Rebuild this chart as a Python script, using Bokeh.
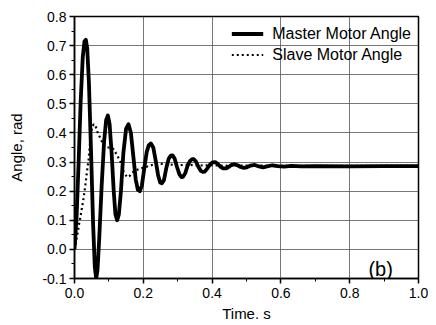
from bokeh.plotting import figure
from bokeh.models import Range1d, FixedTicker, Legend, LegendItem, Label, PrintfTickFormatter
from bokeh.embed import file_html
from bokeh.resources import INLINE

# Master motor angle (time s, angle rad)
master_t = [0.000, 0.006, 0.012, 0.018, 0.024, 0.029, 0.033, 0.037, 0.042, 0.048, 0.054, 0.059,
            0.063, 0.067, 0.072, 0.079, 0.086, 0.092, 0.097, 0.102, 0.108, 0.114, 0.119, 0.124,
            0.129, 0.135, 0.142, 0.150, 0.157, 0.164, 0.171, 0.178, 0.184, 0.190, 0.196, 0.203,
            0.210, 0.216, 0.222, 0.229, 0.236, 0.243, 0.249, 0.254, 0.260, 0.267, 0.274, 0.280,
            0.285, 0.291, 0.298, 0.305, 0.311, 0.316, 0.322, 0.329, 0.336, 0.342, 0.347, 0.353,
            0.360, 0.367, 0.373, 0.378, 0.385, 0.393, 0.401, 0.409, 0.416, 0.424, 0.432, 0.440,
            0.448, 0.456, 0.465, 0.474, 0.483, 0.492, 0.501, 0.512, 0.524, 0.536, 0.548, 0.560,
            0.575, 0.590, 0.610, 0.630, 0.660, 0.700, 0.800, 0.900, 1.000]
master_v = [0.000, 0.110, 0.300, 0.510, 0.660, 0.715, 0.720, 0.690, 0.570, 0.340, 0.090, -0.060,
            -0.100, -0.070, 0.040, 0.220, 0.370, 0.445, 0.460, 0.430, 0.330, 0.200, 0.120, 0.100,
            0.120, 0.200, 0.330, 0.415, 0.430, 0.400, 0.320, 0.240, 0.205, 0.200, 0.220, 0.280,
            0.335, 0.358, 0.364, 0.350, 0.305, 0.255, 0.230, 0.227, 0.238, 0.280, 0.312, 0.322,
            0.323, 0.312, 0.283, 0.258, 0.248, 0.250, 0.262, 0.288, 0.304, 0.310, 0.310, 0.302,
            0.284, 0.270, 0.266, 0.267, 0.276, 0.290, 0.299, 0.300, 0.294, 0.284, 0.278, 0.278,
            0.283, 0.290, 0.292, 0.289, 0.283, 0.280, 0.282, 0.288, 0.290, 0.285, 0.282, 0.285,
            0.289, 0.286, 0.284, 0.287, 0.285, 0.286, 0.285, 0.286, 0.286]

# Slave motor angle
slave_t = [0.000, 0.004, 0.009, 0.013, 0.017, 0.022, 0.027, 0.032, 0.036, 0.041, 0.046, 0.051,
           0.056, 0.061, 0.066, 0.076, 0.085, 0.095, 0.105, 0.113, 0.124, 0.134, 0.143, 0.153,
           0.160, 0.168, 0.180, 0.192, 0.210, 0.226, 0.250, 0.275, 0.300, 0.330, 0.360, 0.400,
           0.450, 0.500, 0.600, 0.700, 0.800, 0.900, 1.000]
slave_v = [0.000, 0.025, 0.055, 0.085, 0.110, 0.145, 0.180, 0.225, 0.265, 0.310, 0.375, 0.420,
           0.430, 0.425, 0.405, 0.380, 0.357, 0.350, 0.350, 0.345, 0.323, 0.300, 0.266, 0.248,
           0.252, 0.264, 0.272, 0.278, 0.284, 0.290, 0.294, 0.292, 0.289, 0.291, 0.288, 0.289,
           0.287, 0.288, 0.287, 0.287, 0.287, 0.287, 0.287]

x_ticks = [0.0, 0.2, 0.4, 0.6, 0.8, 1.0]
y_ticks = [-0.1, 0.0, 0.1, 0.2, 0.3, 0.4, 0.5, 0.6, 0.7, 0.8]
series_names = ["Master Motor Angle", "Slave Motor Angle"]
panel_label = "(b)"

FONT = "Liberation Sans"

p = figure(width=428, height=325, output_backend="svg", toolbar_location=None,
           x_range=Range1d(0.0, 1.0), y_range=Range1d(-0.1, 0.8),
           min_border_left=74, min_border_right=10, min_border_top=16, min_border_bottom=47)
p.background_fill_color = "white"
p.border_fill_color = "white"
p.outline_line_color = "black"
p.outline_line_width = 1.5

for ax in (p.xaxis[0], p.yaxis[0]):
    ax.axis_line_color = "black"
    ax.axis_line_width = 1.5
    ax.major_tick_line_color = "black"
    ax.major_tick_line_width = 1.5
    ax.minor_tick_line_color = "black"
    ax.major_tick_out = 5
    ax.major_tick_in = 0
    ax.minor_tick_out = 3
    ax.minor_tick_in = 0
    ax.major_label_text_font = FONT
    ax.major_label_text_font_size = "14px"
    ax.major_label_text_color = "black"
    ax.axis_label_text_font = FONT
    ax.axis_label_text_font_size = "15px"
    ax.axis_label_text_font_style = "normal"
    ax.axis_label_text_color = "black"

p.xaxis.ticker = FixedTicker(ticks=x_ticks, minor_ticks=[0.1, 0.3, 0.5, 0.7, 0.9])
p.yaxis.ticker = FixedTicker(ticks=y_ticks,
                             minor_ticks=[-0.05, 0.05, 0.15, 0.25, 0.35, 0.45, 0.55, 0.65, 0.75])
p.xaxis.formatter = PrintfTickFormatter(format="%.1f")
p.yaxis.formatter = PrintfTickFormatter(format="%.1f")
p.xaxis.axis_label = "Time. s"
p.yaxis.axis_label = "Angle, rad"
p.xaxis.axis_label_standoff = 4
p.yaxis.axis_label_standoff = 14
p.xaxis.major_label_standoff = 4
p.yaxis.major_label_standoff = 3

p.xgrid.grid_line_color = "#555555"
p.ygrid.grid_line_color = "#555555"
p.xgrid.grid_line_width = 1
p.ygrid.grid_line_width = 1
p.xgrid.grid_line_alpha = 0.8
p.ygrid.grid_line_alpha = 0.8

r_master = p.line(master_t, master_v, line_color="black", line_width=3.8, line_join="round")
r_slave = p.line(slave_t, slave_v, line_color="black", line_width=2.2, line_dash="2 3")

legend = Legend(items=[LegendItem(label=series_names[0], renderers=[r_master]),
                       LegendItem(label=series_names[1], renderers=[r_slave])],
                location="top_right")
legend.background_fill_alpha = 0
legend.border_line_alpha = 0
legend.label_text_font = FONT
legend.label_text_font_size = "16px"
legend.label_text_color = "black"
legend.glyph_width = 32
legend.label_standoff = 9
legend.spacing = 0
legend.label_height = 21
legend.glyph_height = 21
legend.padding = 2
legend.margin = 5
p.add_layout(legend)

p.add_layout(Label(x=0.89, y=-0.066, text=panel_label, text_font=FONT, text_font_size="20px",
                   text_color="black", text_align="center", text_baseline="middle"))

open("out.html", "w").write(file_html(p, INLINE))
